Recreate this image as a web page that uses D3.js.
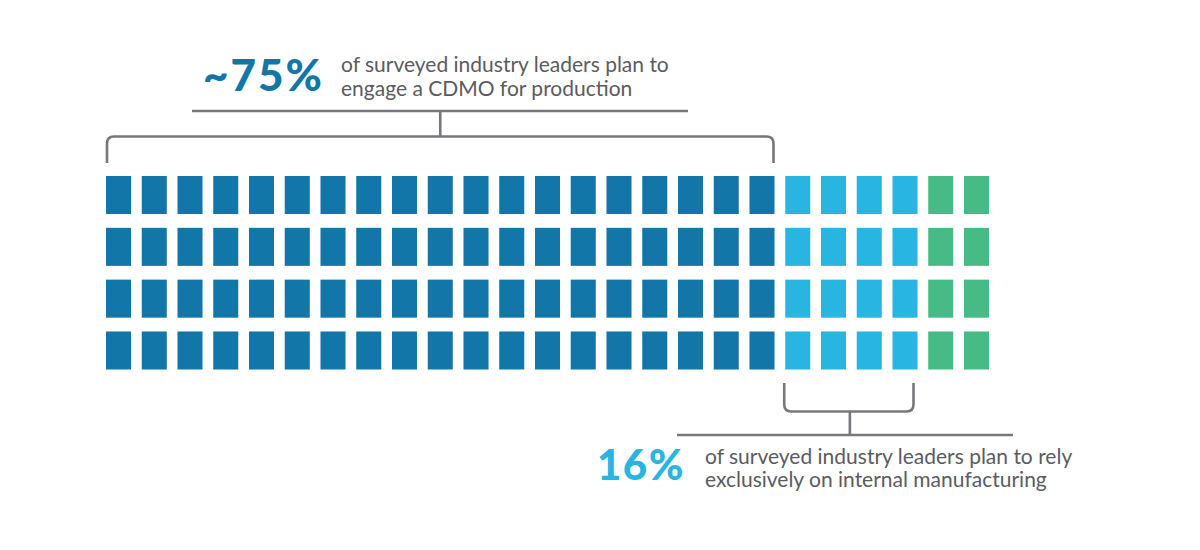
<!DOCTYPE html>
<html>
<head>
<meta charset="utf-8">
<script src="https://cdn.jsdelivr.net/npm/d3@7"></script>
<style>
  body { margin: 0; background: #fff; }
  text { font-family: Lato, "Open Sans", sans-serif; }
</style>
</head>
<body>
<svg id="waffle" width="1200" height="550"></svg>
<script>
// waffle data: 100 squares, filled column by column
const categories = ['CDMO', 'Internal', 'Other'];
const counts = [76, 16, 8];
const colors = ['#1276a9', '#29b5e1', '#47bb85'];
const nCols = 25;
const nRows = 4;

const topBig = '~75%';
const topLines = ['of surveyed industry leaders plan to', 'engage a CDMO for production'];
const bottomBig = '16%';
const bottomLines = ['of surveyed industry leaders plan to rely', 'exclusively on internal manufacturing'];

const svg = d3.select('#waffle');
const gray = '#77777d';

// scales
const x = d3.scaleBand().domain(d3.range(nCols)).range([106, 989]).paddingInner(0.3);
const y = d3.scaleBand().domain(d3.range(nRows)).range([176, 369.5]).paddingInner(0.266);

// build cells
const cells = [];
let idx = 0;
counts.forEach((c, k) => {
    for (let i = 0; i < c; i++) {
        cells.push({ col: Math.floor(idx / nRows), row: idx % nRows, cat: categories[k] });
        idx++;
    }
});
const color = d3.scaleOrdinal().domain(categories).range(colors);

svg.append('g').selectAll('rect')
    .data(cells)
    .join('rect')
    .attr('x', d => x(d.col))
    .attr('y', d => y(d.row))
    .attr('width', x.bandwidth())
    .attr('height', y.bandwidth())
    .attr('fill', d => color(d.cat));

// column ranges for brackets
const cdmoCols = counts[0] / nRows;          // 19
const internalCols = counts[1] / nRows;      // 4
const r = 7;

// top bracket
const tx0 = x(0) + 1, tx1 = x(cdmoCols - 1) + x.bandwidth() - 1;
const tyTop = 136.5, tyBot = 163;
const tMid = (tx0 + tx1) / 2;
const lines = svg.append('g').attr('fill', 'none').attr('stroke', gray).attr('stroke-width', 2.6);
lines.append('path').attr('d',
    `M${tx0},${tyBot} V${tyTop + r} Q${tx0},${tyTop} ${tx0 + r},${tyTop} H${tx1 - r} Q${tx1},${tyTop} ${tx1},${tyTop + r} V${tyBot}`);
lines.append('line').attr('x1', tMid).attr('x2', tMid).attr('y1', tyTop).attr('y2', 111);
lines.append('line').attr('x1', 192).attr('x2', 688).attr('y1', 111).attr('y2', 111);

// bottom bracket
const bx0 = x(cdmoCols) - 1, bx1 = x(cdmoCols + internalCols - 1) + x.bandwidth() - 4;
const byTop = 383, byBot = 411.5;
const bMid = (bx0 + bx1) / 2 + 1;
lines.append('path').attr('d',
    `M${bx0},${byTop} V${byBot - r} Q${bx0},${byBot} ${bx0 + r},${byBot} H${bx1 - r} Q${bx1},${byBot} ${bx1},${byBot - r} V${byTop}`);
lines.append('line').attr('x1', bMid).attr('x2', bMid).attr('y1', byBot).attr('y2', 435);
lines.append('line').attr('x1', 677).attr('x2', 1013).attr('y1', 435).attr('y2', 435);

// annotations
svg.append('text')
    .attr('x', 203).attr('y', 91)
    .attr('fill', colors[0])
    .attr('font-size', 44).attr('font-weight', 900)
    .attr('letter-spacing', 2)
    .text(topBig);
svg.append('g').selectAll('text')
    .data(topLines)
    .join('text')
    .attr('x', 341)
    .attr('y', (d, i) => 72 + i * 24)
    .attr('fill', '#5b5b60')
    .attr('font-size', 21)
    .text(d => d);

svg.append('text')
    .attr('x', 597).attr('y', 480)
    .attr('fill', colors[1])
    .attr('font-size', 42).attr('font-weight', 900)
    .attr('letter-spacing', 1.5)
    .text(bottomBig);
svg.append('g').selectAll('text')
    .data(bottomLines)
    .join('text')
    .attr('x', 705)
    .attr('y', (d, i) => 464 + i * 23)
    .attr('fill', '#5b5b60')
    .attr('font-size', 21)
    .text(d => d);
</script>
</body>
</html>
